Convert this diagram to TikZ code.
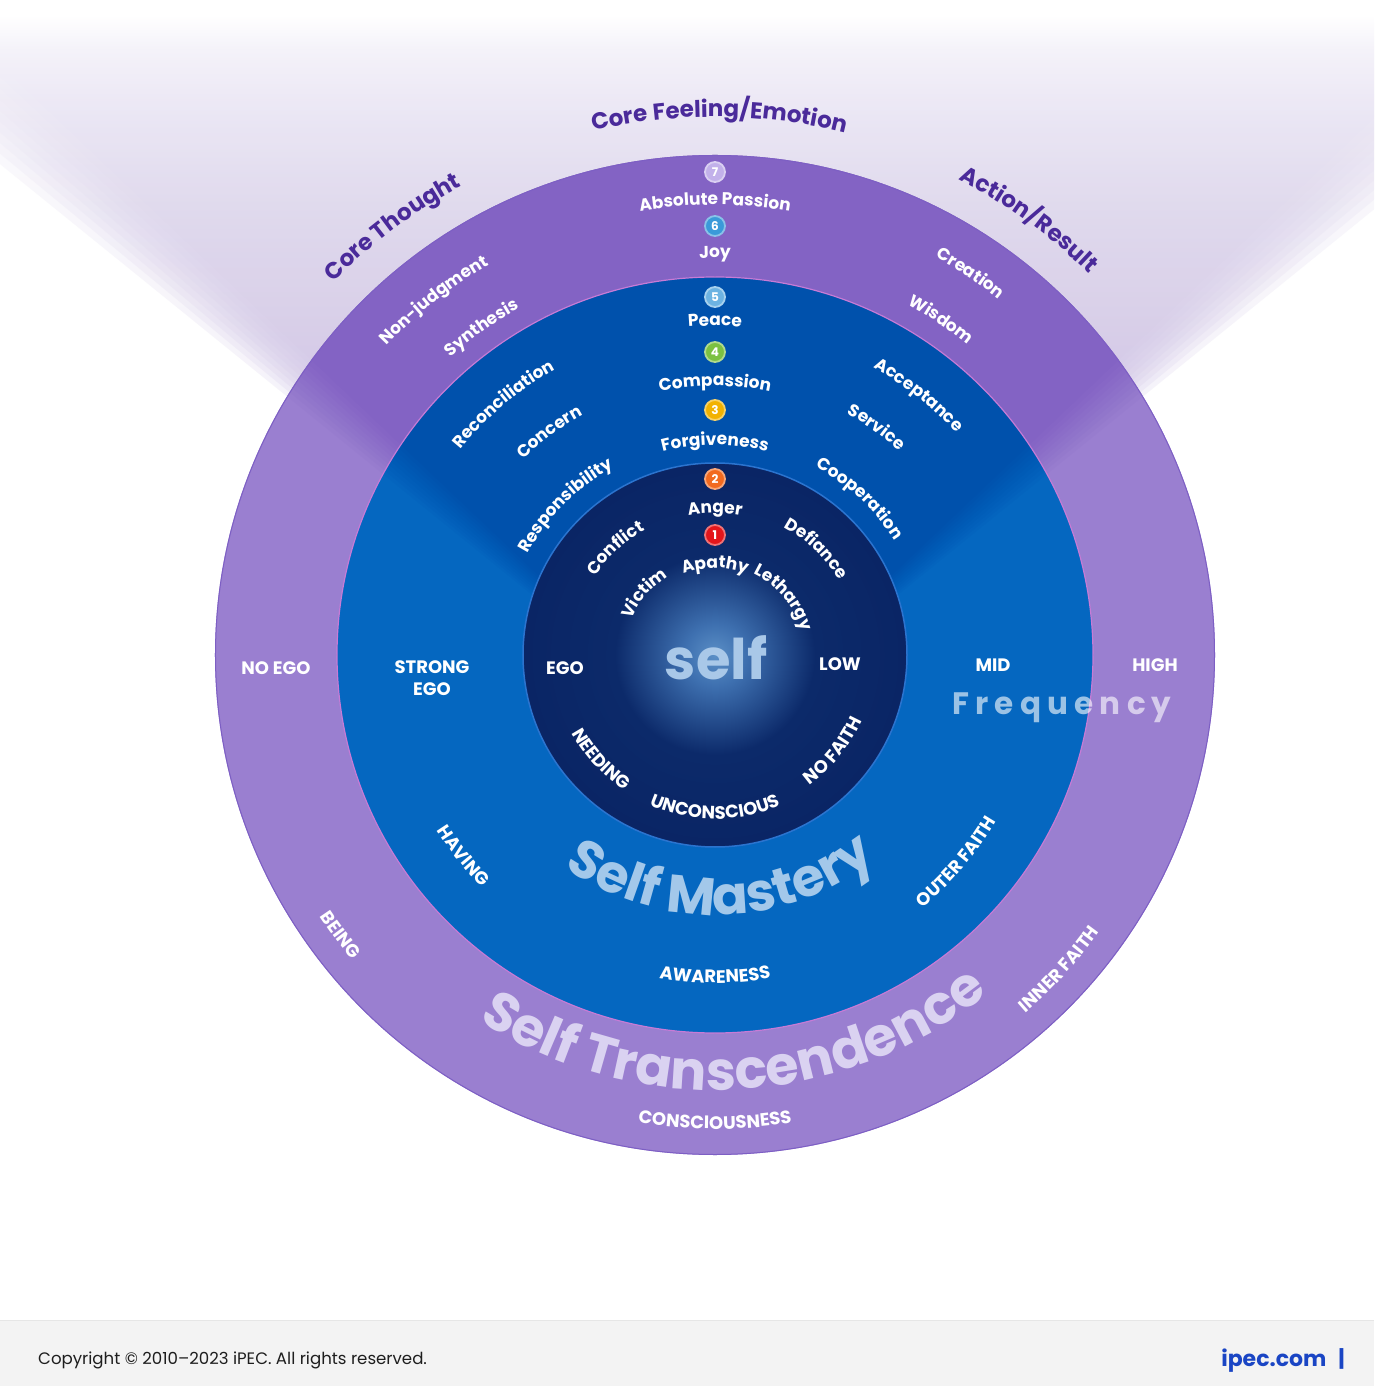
\documentclass[tikz,border=0pt]{standalone}
\usepackage{fontspec}
\setmainfont{Poppins}
\usetikzlibrary{decorations.text}
\definecolor{ringP}{HTML}{9A7FD0}
\definecolor{ringline}{HTML}{7D5FC4}
\definecolor{blueR}{HTML}{0567C0}
\definecolor{pinkline}{HTML}{C77BD6}
\definecolor{innerline}{HTML}{2B74CF}
\definecolor{glowA}{HTML}{5B8FC6}
\definecolor{glowB}{HTML}{3E70B0}
\definecolor{navyA}{HTML}{0C2A6A}
\definecolor{navyB}{HTML}{0A2565}
\definecolor{beamP}{HTML}{4A1FA8}
\definecolor{beamB}{HTML}{002A90}
\definecolor{hzB}{HTML}{D1C5E6}
\definecolor{hzM}{HTML}{DED7ED}
\definecolor{hzT}{HTML}{EAE5F4}
\definecolor{hzTT}{HTML}{F4F2F9}
\definecolor{titleP}{HTML}{4A2A9A}
\definecolor{selfc}{HTML}{A9C8E8}
\definecolor{mastc}{HTML}{A3C8EA}
\definecolor{transc}{HTML}{DAD2F1}
\definecolor{footbg}{HTML}{F3F3F3}
\definecolor{footline}{HTML}{E6E6E6}
\definecolor{copyc}{HTML}{1E1E1E}
\definecolor{ipecblue}{HTML}{1A45C4}
\definecolor{bseven}{HTML}{C2B1EA}
\definecolor{bsix}{HTML}{3A9AD9}
\definecolor{bfive}{HTML}{6DB3E2}
\definecolor{bfour}{HTML}{7CC142}
\definecolor{bthree}{HTML}{F2B201}
\definecolor{btwo}{HTML}{F26A1F}
\definecolor{bone}{HTML}{E3161B}
\pgfdeclareradialshading{glowsh}{\pgfpoint{0bp}{0bp}}{color(0bp)=(glowA); color(4bp)=(glowB); color(13bp)=(navyA); color(25bp)=(navyB); color(50bp)=(navyB)}
\pgfdeclareverticalshading{hazesh}{100bp}{color(0bp)=(hzB); color(50bp)=(hzB); color(62bp)=(hzM); color(68bp)=(hzT); color(72.6bp)=(hzTT); color(75bp)=(white); color(100bp)=(white)}
\newcommand\ftitle{\bfseries\fontsize{23}{23}\selectfont}
\newcommand\flab{\bfseries\fontsize{17}{17}\selectfont}
\newcommand\fcaps{\bfseries\fontsize{18}{18}\selectfont}
\newcommand\fcapstwo{\bfseries\fontsize{18}{22}\selectfont}
\newcommand\fmast{\bfseries\fontsize{53}{53}\selectfont}
\newcommand\ftrans{\bfseries\fontsize{54}{54}\selectfont}
% text on the upper side of a circle (reads clockwise)
\newcommand\toparc[5]{\path[decorate, decoration={text along path, text align=center, text color=#4, text={|#3|#5}}] ({#2+80}:#1) arc[start angle={#2+80}, end angle={#2-80}, radius=#1];}
% text on the lower side of a circle (reads counter-clockwise)
\newcommand\botarc[5]{\path[decorate, decoration={text along path, text align=center, text color=#4, text={|#3|#5}}] ({#2-80}:#1) arc[start angle={#2-80}, end angle={#2+80}, radius=#1];}
% light beam from below the centre, half opening angle #1
\newcommand\beampath[1]{(0,-88) -- ({-728*tan(#1)},640) -- ({728*tan(#1)},640) -- cycle}
\begin{document}
\begin{tikzpicture}[x=1pt,y=1pt,
  badge/.style={circle, minimum size=20pt, inner sep=0pt, line width=1.8pt, text=white, font=\bfseries\fontsize{12}{12}\selectfont},
  hlabel/.style={text=white, font=\fcaps, inner sep=0pt, align=center},
  hazefan/.style={shading=hazesh, opacity=0.2}]
\useasboundingbox (-715,-731) rectangle (659,655);
\clip (-715,-731) rectangle (659,655);
\fill[white] (-715,-731) rectangle (659,655);
% background haze (soft-edged beam)
\foreach \a in {51,50.5,...,46.4}{
  \shade[hazefan] \beampath{\a};
}
% outer ring with the beam
\fill[ringP] (0,0) circle (500);
\begin{scope}
  \clip (0,0) circle (500);
  \foreach \a in {51,50.5,...,46.4}{
    \fill[beamP, fill opacity=0.029] \beampath{\a};
  }
\end{scope}
% middle ring with the beam
\fill[blueR] (0,0) circle (378);
\begin{scope}
  \clip (0,0) circle (378);
  \foreach \a in {51,50.5,...,46.4}{
    \fill[beamB, fill opacity=0.034] \beampath{\a};
  }
\end{scope}
% inner circle
\shade[shading=glowsh] (0,0) circle (192);
\draw[ringline, line width=1pt] (0,0) circle (499.5);
\draw[pinkline, line width=1.2pt] (0,0) circle (378);
\draw[innerline, line width=1.5pt] (0,0) circle (192);
% titles
\toparc{538}{89.5}{\ftitle}{titleP}{Core Feeling/Emotion}
\toparc{533}{127}{\ftitle}{titleP}{Core Thought}
\toparc{534}{54.2}{\ftitle}{titleP}{Action/Result}
% outer ring
\toparc{450}{90}{\flab}{white}{Absolute Passion}
\toparc{397}{90}{\flab}{white}{Joy}
\toparc{451}{128.4}{\flab}{white}{Non-judgment}
\toparc{398}{125.5}{\flab}{white}{Synthesis}
\toparc{455}{56.2}{\flab}{white}{Creation}
\toparc{400}{56}{\flab}{white}{Wisdom}
% middle ring
\toparc{329}{90}{\flab}{white}{Peace}
\toparc{269}{90}{\flab}{white}{Compassion}
\toparc{210}{90}{\flab}{white}{Forgiveness}
\toparc{327}{130.1}{\flab}{white}{Reconciliation}
\toparc{274}{126.6}{\flab}{white}{Concern}
\toparc{213}{135}{\flab}{white}{Responsibility}
\toparc{328}{51.9}{\flab}{white}{Acceptance}
\toparc{275}{54.6}{\flab}{white}{Service}
\toparc{213}{47.2}{\flab}{white}{Cooperation}
% inner circle
\toparc{142}{90}{\flab}{white}{Anger}
\toparc{87}{90}{\flab}{white}{Apathy}
\toparc{143}{133}{\flab}{white}{Conflict}
\toparc{91}{138.8}{\flab}{white}{Victim}
\toparc{145}{46.3}{\flab}{white}{Defiance}
\toparc{90}{40}{\flab}{white}{Lethargy}
% lower arcs
\botarc{163}{222.4}{\fcaps}{white}{NEEDING}
\botarc{164}{270}{\fcaps}{white}{UNCONSCIOUS}
\botarc{161}{-39}{\fcaps}{white}{NO FAITH}
\botarc{329}{218.6}{\fcaps}{white}{HAVING}
\botarc{328}{270}{\fcaps}{white}{AWARENESS}
\botarc{327}{-40.6}{\fcaps}{white}{OUTER FAITH}
\botarc{474}{216.8}{\fcaps}{white}{BEING}
\botarc{474}{270}{\fcaps}{white}{CONSCIOUSNESS}
\botarc{474}{-42.4}{\fcaps}{white}{INNER FAITH}
\botarc{260}{271.5}{\fmast}{mastc}{Self Mastery}
\botarc{435}{273}{\ftrans}{transc}{Self Transcendence}
% badges
\node[badge, fill=bseven, draw=bseven!60!white] (n7) at (0,483) {7};
\node[badge, fill=bsix, draw=bsix!60!white] (n6) at (0,429) {6};
\node[badge, fill=bfive, draw=bfive!60!white] (n5) at (0,358) {5};
\node[badge, fill=bfour, draw=bfour!60!white] (n4) at (0,303) {4};
\node[badge, fill=bthree, draw=bthree!60!white] (n3) at (0,245) {3};
\node[badge, fill=btwo, draw=btwo!60!white] (n2) at (0,176) {2};
\node[badge, fill=bone, draw=bone!60!white] (n1) at (0,120) {1};
% horizontal labels
\node[hlabel] (noego) at (-439,-13) {NO EGO};
\node[hlabel, font=\fcapstwo] (strong) at (-283,-23) {STRONG\\EGO};
\node[hlabel] (ego) at (-150,-13) {EGO};
\node[hlabel] (low) at (125,-9) {LOW};
\node[hlabel] (mid) at (278,-10) {MID};
\node[hlabel] (high) at (440,-10) {HIGH};
\node[text=selfc, font=\bfseries\fontsize{56}{56}\selectfont, inner sep=0pt] (self) at (1,-3) {self};
\node[text=white, text opacity=0.6, inner sep=0pt, font=\bfseries\fontsize{31}{31}\selectfont\addfontfeature{LetterSpace=20}] (freq) at (347,-53) {Frequency};
% footer
\fill[footbg] (-715,-731) rectangle (659,-665);
\draw[footline, line width=1pt] (-715,-665) -- (659,-665);
\node[anchor=base west, inner sep=0pt, text=copyc, font=\fontsize{16.6}{16.6}\selectfont] (copy) at (-677,-709) {Copyright © 2010–2023 iPEC. All rights reserved.};
\node[anchor=base east, inner sep=0pt, text=ipecblue, font=\bfseries\fontsize{22}{22}\selectfont] (ipec) at (630,-711) {ipec.com\hspace{12pt}|};
\end{tikzpicture}
\end{document}
